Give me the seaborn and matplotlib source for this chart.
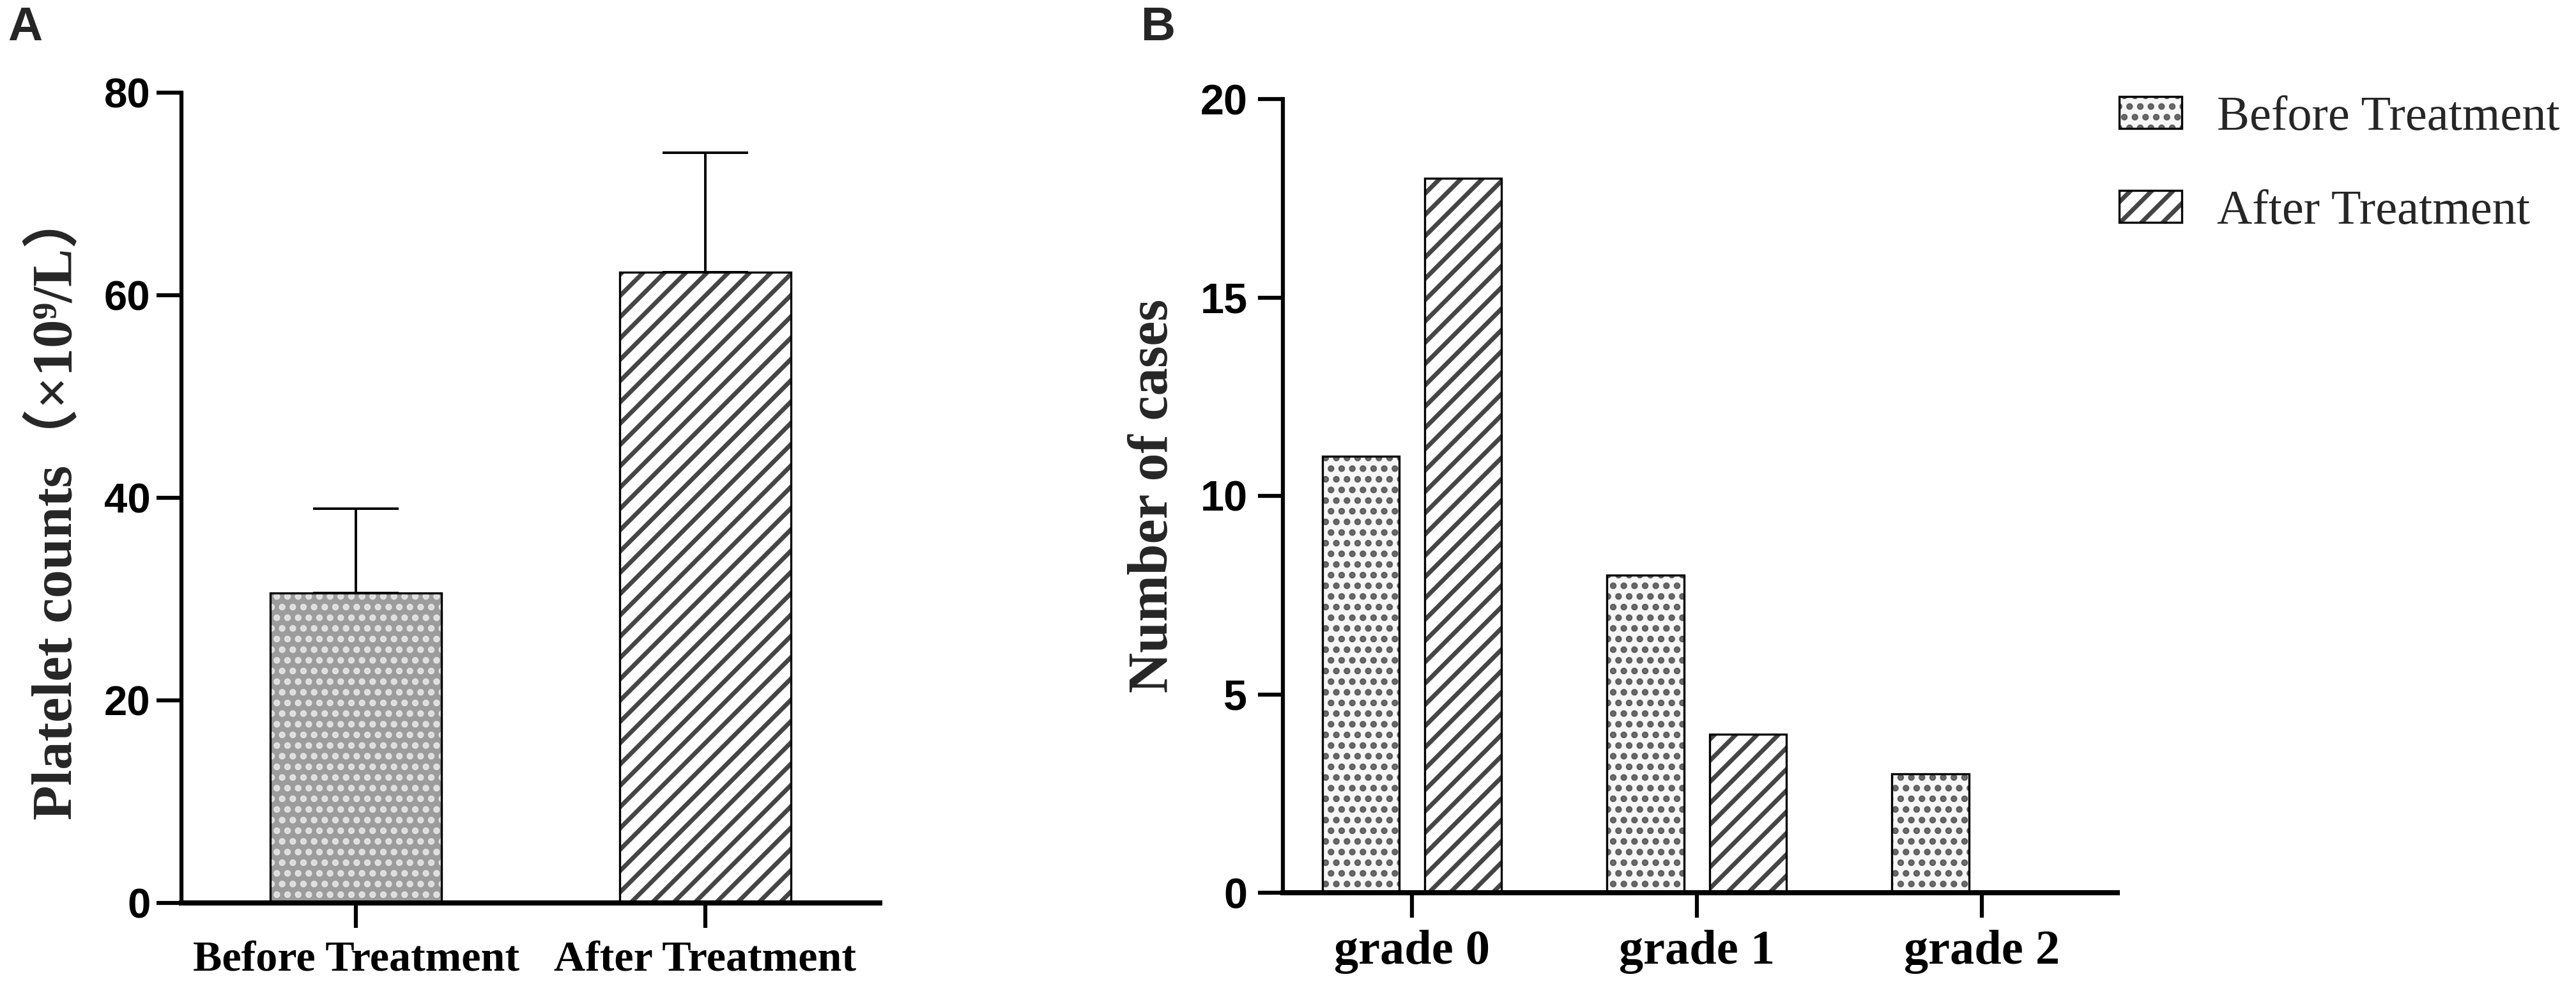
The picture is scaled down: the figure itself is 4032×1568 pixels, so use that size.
import numpy as np
import pandas as pd
import matplotlib
matplotlib.use("Agg")
import matplotlib.pyplot as plt
import seaborn as sns
from matplotlib.patches import Patch
from matplotlib.legend_handler import HandlerTuple

# ---------------- data ----------------
# Panel A: platelet counts (mean with upper SD bar)
a_groups = ["Before Treatment", "After Treatment"]
a_means = [30.6, 62.3]
a_sd = [8.3, 11.8]
a_yticks = [0, 20, 40, 60, 80]

# Panel B: number of cases per grade
b_grades = ["grade 0", "grade 1", "grade 2"]
b_series = ["Before Treatment", "After Treatment"]
b_before = [11, 8, 3]
b_after = [18, 4, 0]
b_yticks = [0, 5, 10, 15, 20]

# ---------------- style ----------------
sns.set_theme(style="ticks")
plt.rcParams["font.family"] = ["Liberation Serif", "Noto Sans CJK SC", "DejaVu Sans"]
plt.rcParams["hatch.linewidth"] = 5.0

W, H, DPI = 4032, 1568, 100
fig = plt.figure(figsize=(W / DPI, H / DPI), dpi=DPI)
fig.patch.set_facecolor("white")


def rect(l, t, r, b):
    return [l / W, 1 - b / H, (r - l) / W, (b - t) / H]


axA = fig.add_axes(rect(284, 145, 1377, 1413))
axB = fig.add_axes(rect(2008, 155, 3314, 1397))

SANS = "Liberation Sans"
SERIF = ["Liberation Serif", "Noto Sans CJK SC", "DejaVu Sans"]

# fill + hatch styles: (facecolor, hatchcolor, hatch)
styleA = {"Before Treatment": ("#9c9c9c", "#e2e2e2", "."),
          "After Treatment": ("#ffffff", "#454545", "/")}
styleB = {"Before Treatment": ("#f6f6f6", "#5e5e5e", "."),
          "After Treatment": ("#ffffff", "#454545", "/")}

# ---------------- Panel A ----------------
dfA = pd.DataFrame({"group": a_groups, "value": a_means})
sns.barplot(data=dfA, x="group", y="value", hue="group", order=a_groups,
            hue_order=a_groups,
            palette={g: styleA[g][0] for g in a_groups},
            width=0.49, errorbar=None, legend=False, ax=axA)
for p in axA.patches:
    idx = int(round(p.get_x() + p.get_width() / 2))
    fc, hc, ht = styleA[a_groups[idx]]
    p.set_facecolor(fc)
    p.set_edgecolor(hc)
    p.set_hatch(ht)
    p.set_linewidth(0)
# black outlines
sns.barplot(data=dfA, x="group", y="value", order=a_groups, color="black",
            fill=False, width=0.49, errorbar=None, linewidth=2.4, ax=axA)
# upper error bars
axA.errorbar(x=np.arange(len(a_groups)), y=a_means,
             yerr=[np.zeros(len(a_sd)), a_sd], fmt="none", ecolor="black",
             elinewidth=2.8, capsize=48, capthick=2.8, zorder=5)

axA.set_xlim(-0.5, 1.5)
axA.set_ylim(0, 80)
axA.set_yticks(a_yticks, labels=[str(t) for t in a_yticks], fontsize=47,
               fontweight="bold", fontfamily=SANS)
plt.setp(axA.get_xticklabels(), fontsize=49, fontweight="bold", fontfamily=SERIF)
axA.set_xlabel("")
axA.set_ylabel("Platelet counts（×10⁹/L）", fontsize=64, fontweight="bold",
               fontfamily=SERIF)
axA.yaxis.set_label_coords(-0.179, 0.49)
axA.yaxis.label.set_va("center")

# ---------------- Panel B ----------------
dfB = pd.DataFrame({
    "grade": b_grades * 2,
    "treatment": [b_series[0]] * len(b_grades) + [b_series[1]] * len(b_grades),
    "count": b_before + b_after,
})
sns.barplot(data=dfB, x="grade", y="count", hue="treatment", order=b_grades,
            hue_order=b_series,
            palette={s: styleB[s][0] for s in b_series},
            width=0.72, gap=0.25, errorbar=None, legend=False, ax=axB)
for p in axB.patches:
    c = p.get_x() + p.get_width() / 2
    s = b_series[0] if c < round(c) else b_series[1]
    fc, hc, ht = styleB[s]
    p.set_facecolor(fc)
    p.set_edgecolor(hc)
    p.set_hatch(ht)
    p.set_linewidth(0)
sns.barplot(data=dfB, x="grade", y="count", hue="treatment", order=b_grades,
            hue_order=b_series, palette={s: "black" for s in b_series},
            fill=False, width=0.72, gap=0.25, errorbar=None, legend=False,
            linewidth=2.4, ax=axB)

axB.set_xlim(-0.453, 2.476)
axB.set_ylim(0, 20)
axB.set_yticks(b_yticks, labels=[str(t) for t in b_yticks], fontsize=48,
               fontweight="bold", fontfamily=SANS)
plt.setp(axB.get_xticklabels(), fontsize=55, fontweight="bold", fontfamily=SERIF)
axB.set_xlabel("")
axB.set_ylabel("Number of cases", fontsize=63, fontweight="bold",
               fontfamily=SERIF)
axB.yaxis.set_label_coords(-0.155, 0.50)
axB.yaxis.label.set_va("center")

# ---------------- axes cosmetics ----------------
for ax, ypad in ((axA, 7), (axB, 12)):
    sns.despine(ax=ax)
    ax.spines["left"].set_linewidth(4.5)
    ax.spines["bottom"].set_linewidth(5.8)
    for s in ("left", "bottom"):
        ax.spines[s].set_color("black")
        ax.spines[s].set_zorder(6)
    ax.tick_params(axis="both", direction="out", length=28, width=4.5,
                   color="black", labelcolor="black")
    ax.tick_params(axis="y", pad=ypad)
    ax.tick_params(axis="x", pad=14)
    ax.set_facecolor("white")

# ---------------- legend ----------------
def legend_handle(style):
    fc, hc, ht = style
    return (Patch(facecolor=fc, edgecolor=hc, hatch=ht, linewidth=0),
            Patch(facecolor="none", edgecolor="black", linewidth=2.4))

handles = [legend_handle(styleB[s]) for s in b_series]
fig.legend(handles, b_series, handler_map={tuple: HandlerTuple(ndivide=1, pad=0)},
           loc="upper left", bbox_to_anchor=(3317 / W, 1 - 150 / H),
           frameon=False, borderpad=0, borderaxespad=0,
           handlelength=1.28, handleheight=0.63, handletextpad=0.72,
           labelspacing=1.02, prop={"family": SERIF, "size": 55})

# ---------------- panel letters ----------------
fig.text(12 / W, 1 - 63 / H, "A", fontsize=54, fontweight="bold",
         fontfamily=SANS, ha="left", va="baseline")
fig.text(1786 / W, 1 - 63 / H, "B", fontsize=54, fontweight="bold",
         fontfamily=SANS, ha="left", va="baseline")

fig.savefig("out.png", dpi=DPI, facecolor="white")
